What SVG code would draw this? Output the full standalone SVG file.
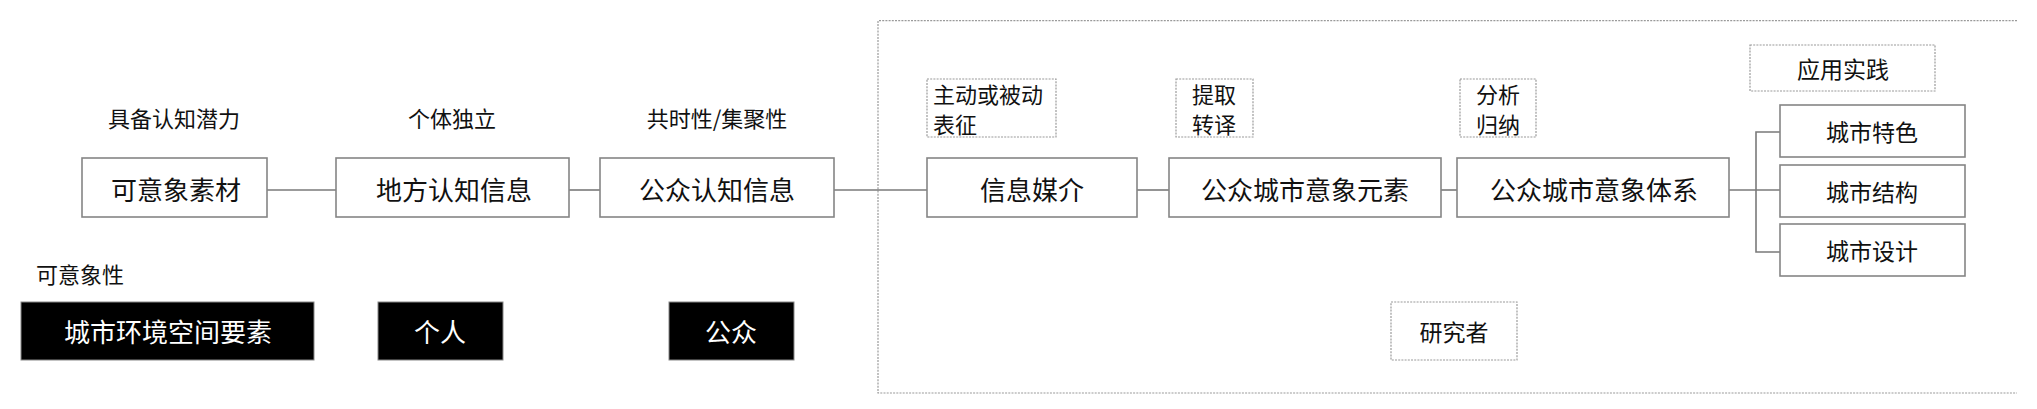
<svg xmlns="http://www.w3.org/2000/svg" width="2037" height="409" viewBox="0 0 2037 409">
<style>
text{font-family:"Noto Sans CJK SC","Noto Sans",sans-serif;fill:#111;dominant-baseline:central}
.box{fill:#fff;stroke:#858585;stroke-width:1.6}
.dbox{fill:#fff;stroke:#9a9a9a;stroke-width:1.2;stroke-dasharray:2 1.2}
.blk{fill:#000;stroke:#888;stroke-width:1}
.lbl{font-size:22px;text-anchor:middle}
.bt{font-size:26px;text-anchor:middle}
.st{font-size:23px;text-anchor:middle}
.mt{font-size:22px;text-anchor:middle}
.wt{font-size:26px;text-anchor:middle;fill:#fff}
.conn{stroke:#7a7a7a;stroke-width:1.6;fill:none}
.frame{stroke:#9a9a9a;stroke-width:1.2;stroke-dasharray:2 1.2;fill:none}
</style>
<path class="frame" d="M2017,20.7 H878 V393 H2017"/>
<g id="connectors">
<path class="conn" d="M267,190 H336"/>
<path class="conn" d="M569,190 H600"/>
<path class="conn" d="M834,190 H927"/>
<path class="conn" d="M1137,190 H1169"/>
<path class="conn" d="M1441,190 H1457"/>
<path class="conn" d="M1729,190 H1780"/>
<path class="conn" d="M1780,132 H1756 V252 H1780"/>
</g>
<g id="label-jubei"><text class="lbl" x="174" y="117">具备认知潜力</text></g>
<g id="label-geti"><text class="lbl" x="452" y="117">个体独立</text></g>
<g id="label-gongshi"><text class="lbl" x="717" y="117">共时性/集聚性</text></g>
<g id="n1"><rect class="box" x="82" y="158" width="185" height="59"/><text class="bt" x="176" y="188">可意象素材</text></g>
<g id="n2"><rect class="box" x="336" y="158" width="233" height="59"/><text class="bt" x="454" y="188">地方认知信息</text></g>
<g id="n3"><rect class="box" x="600" y="158" width="234" height="59"/><text class="bt" x="717" y="188">公众认知信息</text></g>
<g id="n4"><rect class="box" x="927" y="158" width="210" height="59"/><text class="bt" x="1032" y="188">信息媒介</text></g>
<g id="n5"><rect class="box" x="1169" y="158" width="272" height="59"/><text class="bt" x="1305" y="188">公众城市意象元素</text></g>
<g id="n6"><rect class="box" x="1457" y="158" width="272" height="59"/><text class="bt" x="1594" y="188">公众城市意象体系</text></g>
<g id="n7"><rect class="box" x="1780" y="105" width="185" height="52"/><text class="st" x="1872" y="131">城市特色</text></g>
<g id="n8"><rect class="box" x="1780" y="165" width="185" height="52"/><text class="st" x="1872" y="191">城市结构</text></g>
<g id="n9"><rect class="box" x="1780" y="224" width="185" height="52"/><text class="st" x="1872" y="250">城市设计</text></g>
<g id="d1"><rect class="dbox" x="927" y="79" width="129" height="58"/><text class="mt" x="933" y="93" style="text-anchor:start">主动或被动</text><text class="mt" x="933" y="123" style="text-anchor:start">表征</text></g>
<g id="d2"><rect class="dbox" x="1176" y="79" width="77" height="58"/><text class="mt" x="1214" y="93">提取</text><text class="mt" x="1214" y="123">转译</text></g>
<g id="d3"><rect class="dbox" x="1460" y="79" width="76" height="58"/><text class="mt" x="1498" y="93">分析</text><text class="mt" x="1498" y="123">归纳</text></g>
<g id="d4"><rect class="dbox" x="1750" y="45" width="185" height="46"/><text class="st" x="1843" y="68">应用实践</text></g>
<g id="d5"><rect class="dbox" x="1391" y="302" width="126" height="58"/><text class="st" x="1454" y="331">研究者</text></g>
<g id="label-keyixiang"><text x="36" y="273" style="font-size:22px">可意象性</text></g>
<g id="b1"><rect class="blk" x="21" y="302" width="293" height="58"/><text class="wt" x="168" y="330">城市环境空间要素</text></g>
<g id="b2"><rect class="blk" x="378" y="302" width="125" height="58"/><text class="wt" x="440" y="330">个人</text></g>
<g id="b3"><rect class="blk" x="669" y="302" width="125" height="58"/><text class="wt" x="731" y="330">公众</text></g>
</svg>
